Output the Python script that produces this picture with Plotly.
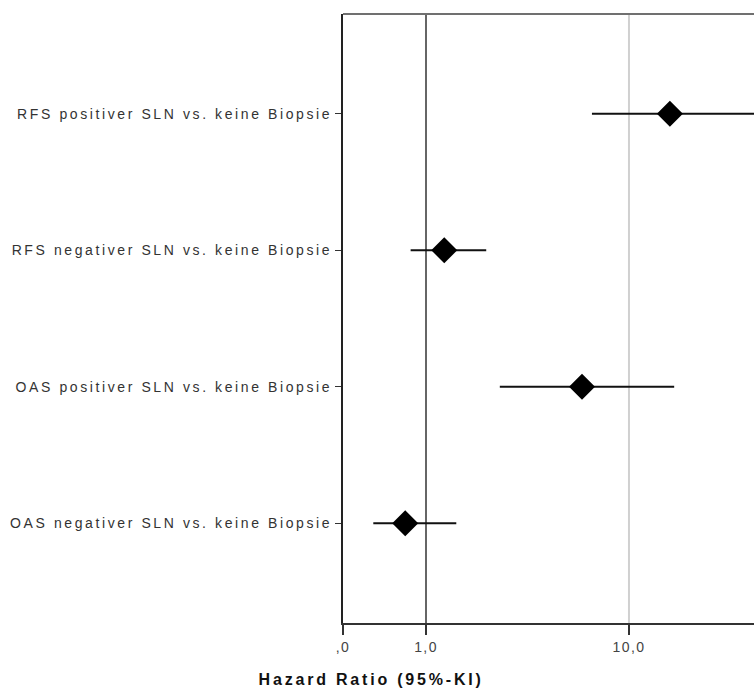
import plotly.graph_objects as go
import math

categories = [
    "RFS positiver SLN vs. keine Biopsie",
    "RFS negativer SLN vs. keine Biopsie",
    "OAS positiver SLN vs. keine Biopsie",
    "OAS negativer SLN vs. keine Biopsie",
]
hr = [15.9, 1.23, 5.87, 0.79]
ci_low = [6.57, 0.84, 2.31, 0.55]
ci_high = [45.0, 1.98, 16.7, 1.41]

x_min, x_max = 0.39, 41.3
tick_vals = [x_min, 1, 10]
tick_text = [",0", "1,0", "10,0"]
ref_value = 1
grid_value = 10

fig = go.Figure()

# CI lines
lx, ly = [], []
for c, lo, hi in zip(categories, ci_low, ci_high):
    lx += [lo, hi, None]
    ly += [c, c, None]
fig.add_trace(go.Scatter(x=lx, y=ly, mode="lines",
                         line=dict(color="#111111", width=2),
                         hoverinfo="skip", showlegend=False))
fig.add_trace(go.Scatter(x=hr, y=categories, mode="markers",
                         marker=dict(symbol="diamond", size=20, color="#000000",
                                     line=dict(width=0)),
                         showlegend=False))

fig.add_shape(type="line", xref="x", yref="paper", x0=grid_value, x1=grid_value,
              y0=0, y1=1, line=dict(color="#d0d0d0", width=2), layer="below")
fig.add_shape(type="line", xref="x", yref="paper", x0=ref_value, x1=ref_value,
              y0=0, y1=1, line=dict(color="#666666", width=2), layer="below")
fig.add_shape(type="line", xref="paper", yref="paper", x0=0, x1=1,
              y0=1, y1=1, line=dict(color="#707070", width=2))

fig.update_layout(
    width=754, height=691,
    margin=dict(l=343, r=0, t=14, b=68),
    plot_bgcolor="white", paper_bgcolor="white",
    font=dict(family="Liberation Sans, Arial, sans-serif", size=14, color="#333333"),
    xaxis=dict(type="log", range=[math.log10(x_min), math.log10(x_max)],
               tickvals=tick_vals, ticktext=tick_text,
               showgrid=False, zeroline=False,
               showline=True, linecolor="#333333", linewidth=2,
               ticks="outside", ticklen=10, tickwidth=2, tickcolor="#333333",
               tickfont=dict(size=14, color="#444444")),
    yaxis=dict(categoryorder="array", categoryarray=categories,
               autorange=False, range=[3.73, -0.73],
               showgrid=False, zeroline=False,
               showline=True, linecolor="#222222", linewidth=2,
               ticks="outside", ticklen=6, tickwidth=1, tickcolor="#333333",
               tickfont=dict(size=14, color="#333333")),
    annotations=[dict(text="<b>Hazard Ratio (95%-KI)</b>", xref="paper", yref="paper",
                      x=(371 - 343) / 411, y=0, yshift=-56, xanchor="center",
                      yanchor="middle", showarrow=False,
                      font=dict(size=16, color="#111111"))],
)

post_js = """
document.body.style.margin = '0';
var gd = document.getElementById('{plot_id}');
function fixText() {
  gd.querySelectorAll('.ytick text').forEach(function(t){ t.style.letterSpacing = '2.6px'; });
  gd.querySelectorAll('.xtick text').forEach(function(t){ t.style.letterSpacing = '1.4px'; });
  gd.querySelectorAll('.annotation-text').forEach(function(t){ t.style.letterSpacing = '2.8px'; });
}
fixText();
gd.on('plotly_afterplot', fixText);
"""

fig.write_html("out.html", post_script=post_js, config={"displayModeBar": False})
